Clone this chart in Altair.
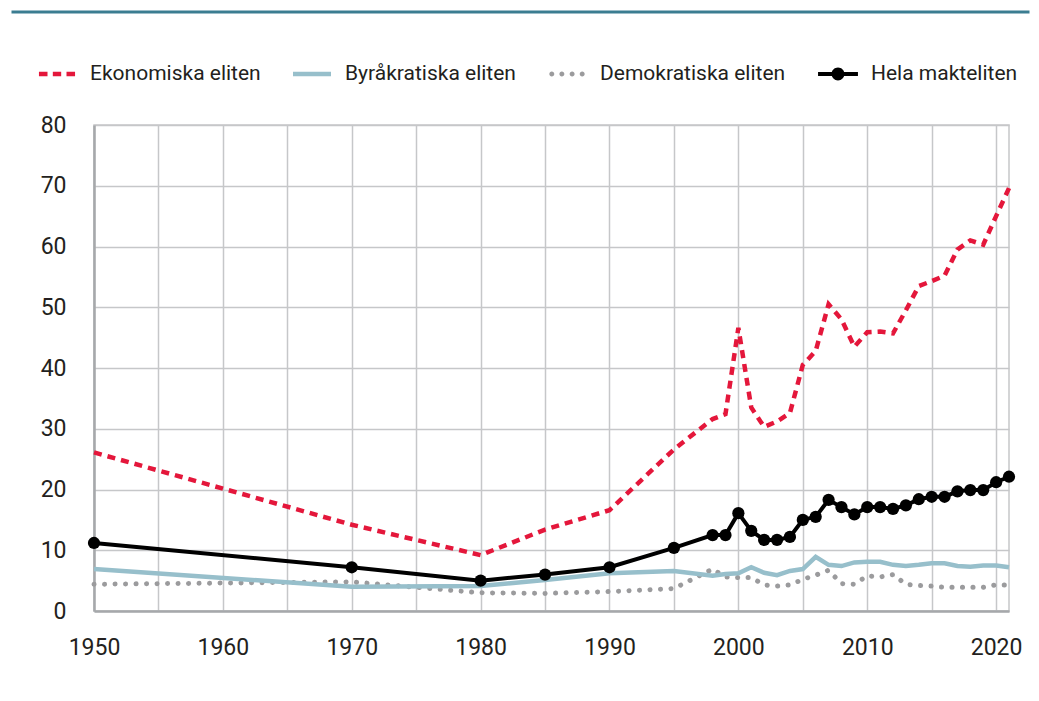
import altair as alt
import pandas as pd

# ---- data ----
years = [1950, 1970, 1980, 1985, 1990, 1995, 1998, 1999, 2000, 2001, 2002, 2003,
         2004, 2005, 2006, 2007, 2008, 2009, 2010, 2011, 2012, 2013, 2014, 2015,
         2016, 2017, 2018, 2019, 2020, 2021]
ekonomiska = [26.1, 14.2, 9.2, 13.4, 16.6, 26.6, 31.6, 32.4, 46.6, 33.5, 30.3, 31.2,
              32.6, 40.5, 42.8, 50.5, 48.0, 43.5, 45.9, 46.0, 45.7, 49.5, 53.5, 54.3,
              55.2, 59.5, 61.0, 60.3, 65.0, 69.6]
byrakratiska = [6.9, 4.0, 4.1, 5.1, 6.2, 6.6, 5.8, 6.1, 6.2, 7.2, 6.3, 5.9,
                6.6, 6.9, 8.9, 7.6, 7.4, 8.0, 8.1, 8.1, 7.6, 7.4, 7.6, 7.85,
                7.85, 7.4, 7.3, 7.5, 7.5, 7.2]
demokratiska = [4.4, 4.8, 3.0, 2.9, 3.2, 3.7, 6.9, 5.6, 5.5, 5.5, 4.3, 4.1,
                4.3, 5.2, 5.9, 6.7, 4.5, 4.4, 5.8, 5.6, 6.0, 4.4, 4.2, 4.1,
                3.9, 3.9, 3.9, 3.9, 4.3, 4.3]
hela = [11.2, 7.2, 5.0, 6.0, 7.2, 10.4, 12.5, 12.5, 16.1, 13.2, 11.7, 11.7,
        12.2, 15.0, 15.5, 18.3, 17.1, 15.9, 17.1, 17.1, 16.8, 17.4, 18.4, 18.8,
        18.8, 19.7, 19.9, 19.9, 21.2, 22.1]

series_names = ["Ekonomiska eliten", "Byråkratiska eliten", "Demokratiska eliten", "Hela makteliten"]
series_values = [ekonomiska, byrakratiska, demokratiska, hela]

y_ticks = [0, 10, 20, 30, 40, 50, 60, 70, 80]
x_grid_years = [1950, 1955, 1960, 1965, 1970, 1975, 1980, 1985, 1990, 1995,
                2000, 2005, 2010, 2015, 2020]

# ---- styles ----
RED = "#e4173b"
BLUE = "#97bfcb"
GRAY = "#9b9b9d"
BLACK = "#000000"
colors = [RED, BLUE, GRAY, BLACK]
FONT = "Roboto"
TXT = "#231f20"

def dot(cx, r):
    return (f"M{cx + r},0 A{r},{r} 0 1,1 {cx - r},0 "
            f"A{r},{r} 0 1,1 {cx + r},0 Z ")

legend_paths = [
    "M-0.95,-0.12 H-0.5 V0.12 H-0.95 Z M-0.22,-0.12 H0.22 V0.12 H-0.22 Z M0.5,-0.12 H0.95 V0.12 H0.5 Z",
    "M-1,-0.12 H1 V0.12 H-1 Z",
    dot(-0.8, 0.13) + dot(-0.27, 0.13) + dot(0.27, 0.13) + dot(0.8, 0.13),
    "M-1.05,-0.11 H-0.25 V0.11 H-1.05 Z M0.25,-0.11 H1.05 V0.11 H0.25 Z " + dot(0.0, 0.34),
]

rows = []
for name, vals in zip(series_names, series_values):
    for yr, v in zip(years, vals):
        rows.append({"year": yr, "value": v, "serie": name})
df = pd.DataFrame(rows)

W, H = 915, 486

x_enc = alt.X(
    "year:Q",
    scale=alt.Scale(domain=[1950, 2021], nice=False, zero=False),
    axis=alt.Axis(
        values=x_grid_years, format="d",
        labelExpr="datum.value % 10 == 0 ? datum.label : ''",
        title=None, ticks=False, labelPadding=25, labelFlush=False,
    ),
)
y_enc = alt.Y(
    "value:Q",
    scale=alt.Scale(domain=[0, 80], nice=False),
    axis=alt.Axis(values=y_ticks, title=None, ticks=False, labelPadding=28),
)

base = alt.Chart(df).encode(x=x_enc, y=y_enc)

def sel(i):
    return base.transform_filter(alt.datum.serie == series_names[i])

gray_line = sel(2).mark_line(color=GRAY, strokeWidth=5, strokeDash=[0.1, 10.4],
                             strokeCap="round")
blue_line = sel(1).mark_line(color=BLUE, strokeWidth=4.5)
red_line = sel(0).mark_line(color=RED, strokeWidth=4.5, strokeDash=[8, 6])
black_line = sel(3).mark_line(color=BLACK, strokeWidth=4)
black_pts = sel(3).mark_circle(color=BLACK, size=150, opacity=1)

leg = alt.Legend(
    orient="none", legendX=-56, legendY=-70, direction="horizontal", title=None,
    symbolSize=1444, symbolStrokeWidth=0, symbolOpacity=1,
    labelFontSize=21, labelFont=FONT, labelColor=TXT, labelOffset=14,
    columnPadding=32, padding=0, labelLimit=400,
)
legend_layer = base.mark_point(filled=True, opacity=0).encode(
    color=alt.Color("serie:N", scale=alt.Scale(domain=series_names, range=colors), legend=leg),
    shape=alt.Shape("serie:N", scale=alt.Scale(domain=series_names, range=legend_paths), legend=leg),
)

top_rule = alt.Chart(pd.DataFrame({"k": [0]})).mark_rule(
    color="#3b7d91", strokeWidth=3
).encode(x=alt.value(-82.5), x2=alt.value(935.5), y=alt.value(-113))

chart = (
    alt.layer(gray_line, blue_line, red_line, black_line, black_pts, legend_layer, top_rule)
    .properties(width=W, height=H, padding={"left": 2, "top": 2, "right": 0, "bottom": 10},
                background="#ffffff")
    .configure_view(stroke="#c6c7c9", strokeWidth=1.5)
    .configure_axis(
        labelFont=FONT, labelFontSize=23, labelColor=TXT,
        gridColor="#c6c7c9", gridWidth=1.5, gridOpacity=1,
        domainColor="#a6a8ab", domainWidth=2.5,
    )
)

chart.save("out.html", embed_options={"renderer": "svg", "actions": False})
